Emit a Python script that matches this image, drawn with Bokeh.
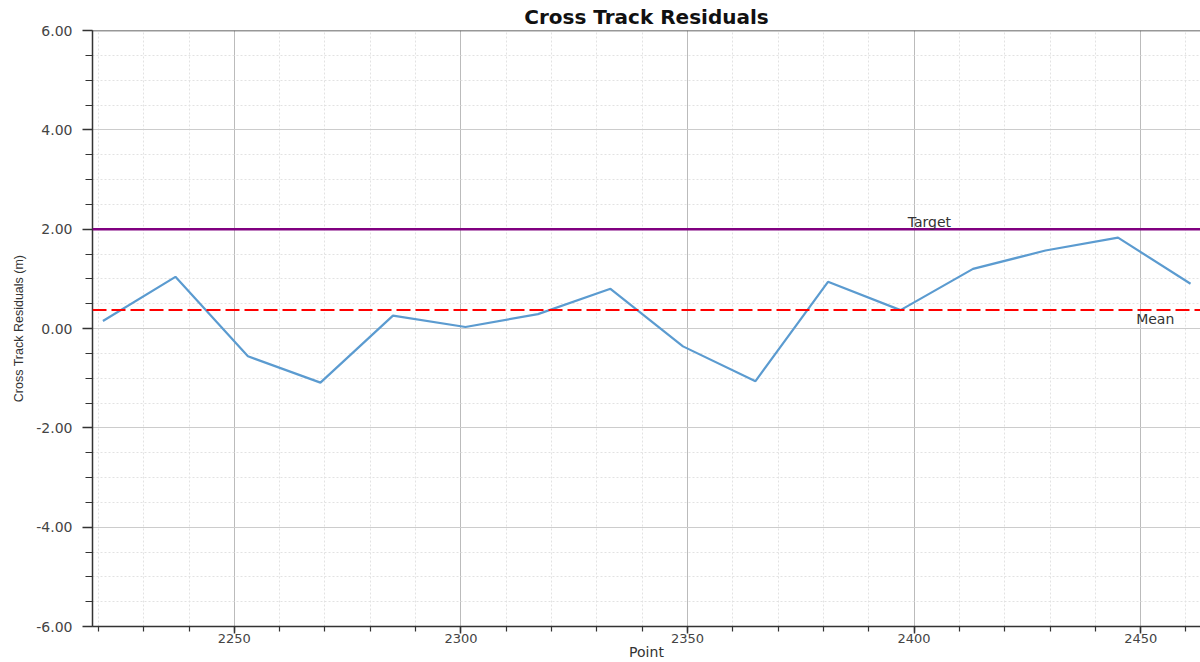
from bokeh.plotting import figure
from bokeh.models import Range1d, Span, Label, NumeralTickFormatter, SingleIntervalTicker, ColumnDataSource
from bokeh.embed import file_html
from bokeh.resources import INLINE

# Data
points = [2221, 2237, 2253, 2269, 2285, 2301, 2317, 2333, 2349, 2365, 2381, 2397, 2413, 2429, 2445, 2461]
residuals = [0.15, 1.04, -0.56, -1.09, 0.26, 0.03, 0.29, 0.80, -0.36, -1.06, 0.94, 0.37, 1.20, 1.57, 1.83, 0.90]
target_value = 2.0
mean_value = 0.37
x_start, x_end = 2218.7, 2463.2
y_start, y_end = -6.0, 6.0

FONT = "DejaVu Sans"

p = figure(width=1200, height=662, output_backend="svg", toolbar_location=None,
           x_range=Range1d(x_start, x_end), y_range=Range1d(y_start, y_end),
           title="Cross Track Residuals",
           min_border_left=92, min_border_right=0, min_border_top=30, min_border_bottom=34)

p.title.align = "center"
p.title.text_font = FONT
p.title.text_font_style = "bold"
p.title.text_font_size = "20px"
p.title.text_color = "#111111"
p.title.offset = 0
p.title.standoff = 4

p.outline_line_color = None
p.background_fill_color = "white"
p.border_fill_color = "white"

# Axes
p.xaxis.ticker = SingleIntervalTicker(interval=50, num_minor_ticks=5)
p.yaxis.ticker = SingleIntervalTicker(interval=2, num_minor_ticks=4)
p.yaxis.formatter = NumeralTickFormatter(format="0.00")

for ax in (p.xaxis[0], p.yaxis[0]):
    ax.axis_line_color = "#333333"
    ax.axis_line_width = 1.5
    ax.major_tick_line_color = "#333333"
    ax.minor_tick_line_color = "#333333"
    ax.major_tick_line_width = 1.5
    ax.minor_tick_line_width = 1.2
    ax.major_tick_in = 0
    ax.minor_tick_in = 0
    ax.major_label_text_font = FONT
    ax.major_label_text_font_size = "14px"
    ax.major_label_text_color = "#444444"
    ax.axis_label_text_font_style = "normal"
    ax.axis_label_text_color = "#333333"

p.xaxis.major_tick_out = 7
p.xaxis.minor_tick_out = 5
p.xaxis.major_label_standoff = 0
p.xaxis.major_label_text_font_size = "13px"
p.xaxis.axis_label = "Point"
p.xaxis.axis_label_text_font = FONT
p.xaxis.axis_label_text_font_size = "14px"
p.xaxis.axis_label_standoff = -2

p.yaxis.major_tick_out = 10
p.yaxis.minor_tick_out = 7
p.yaxis.major_label_standoff = 10
p.yaxis.axis_label = "Cross Track Residuals (m)"
p.yaxis.axis_label_text_font = "Liberation Sans"
p.yaxis.axis_label_text_font_size = "12.5px"
p.yaxis.axis_label_standoff = 7

# Grids
p.xgrid.grid_line_color = "#bbbbbb"
p.xgrid.grid_line_width = 1
p.ygrid.grid_line_color = "#cccccc"
p.ygrid.grid_line_width = 1
p.xgrid.minor_grid_line_color = "#e2e2e2"
p.ygrid.minor_grid_line_color = "#e2e2e2"
p.xgrid.minor_grid_line_dash = "2 2"
p.ygrid.minor_grid_line_dash = "2 2"

# Top border line
p.add_layout(Span(location=y_end, dimension="width", line_color="#333333", line_width=1.5))

# Data line
src = ColumnDataSource(dict(x=points, y=residuals))
p.line("x", "y", source=src, line_color="#5b9bd0", line_width=2.2)

# Target and mean lines
p.add_layout(Span(location=target_value, dimension="width", line_color="#800080", line_width=2.5))
p.add_layout(Span(location=mean_value, dimension="width", line_color="#ff0000", line_width=2,
                  line_dash="14 5"))

p.add_layout(Label(x=2398.6, y=target_value, text="Target", text_font=FONT, text_font_size="14px",
                   text_color="#333333", text_baseline="bottom", y_offset=-1))
p.add_layout(Label(x=2449, y=mean_value, text="Mean", text_font=FONT, text_font_size="14px",
                   text_color="#333333", text_baseline="top", y_offset=-1))

open("out.html", "w").write(file_html(p, INLINE))
